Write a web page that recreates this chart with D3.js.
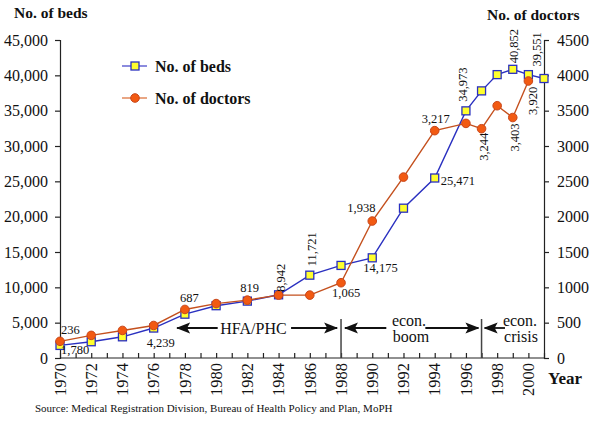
<!DOCTYPE html>
<html>
<head>
<meta charset="utf-8">
<script src="https://cdn.jsdelivr.net/npm/d3@7"></script>
<style>
  body { margin: 0; background: #fff; }
  svg text { font-family: "Liberation Serif", "Times New Roman", serif; fill: #111; }
</style>
</head>
<body>
<div id="chart"></div>
<script>
// Data
const bedYears = [1970, 1972, 1974, 1976, 1978, 1980, 1982, 1984, 1986, 1988, 1990, 1992, 1994, 1996, 1997, 1998, 1999, 2000, 2001];
const beds = [1780, 2300, 3000, 4239, 6200, 7400, 8050, 8942, 11721, 13100, 14175, 21200, 25471, 34973, 37800, 40100, 40852, 40100, 39551];
const doctorYears = [1970, 1972, 1974, 1976, 1978, 1980, 1982, 1984, 1986, 1988, 1990, 1992, 1994, 1996, 1997, 1998, 1999, 2000];
const doctors = [236, 320, 390, 460, 687, 770, 819, 890, 890, 1065, 1938, 2560, 3217, 3320, 3244, 3570, 3403, 3920];
const bedTicks = [0, 5000, 10000, 15000, 20000, 25000, 30000, 35000, 40000, 45000];
const doctorTicks = [0, 500, 1000, 1500, 2000, 2500, 3000, 3500, 4000, 4500];
const yearLabels = [1970, 1972, 1974, 1976, 1978, 1980, 1982, 1984, 1986, 1988, 1990, 1992, 1994, 1996, 1998, 2000];

// value labels: which point, and where the text goes
const bedLabels = [
  {year: 1970, text: '1,780', dx: 1, dy: 9},
  {year: 1976, text: '4,239', dx: -7, dy: 19},
  {year: 1984, text: '8,942', dx: 2, dy: -3, rot: true},
  {year: 1986, text: '11,721', dx: 2, dy: -9, rot: true},
  {year: 1990, text: '14,175', dx: -9, dy: 14},
  {year: 1994, text: '25,471', dx: 6, dy: 7},
  {year: 1996, text: '34,973', dx: -3, dy: -9, rot: true},
  {year: 1999, text: '40,852', dx: 1, dy: -6, rot: true},
  {year: 2001, text: '39,551', dx: -7, dy: -12, rot: true}
];
const doctorLabels = [
  {year: 1970, text: '236', dx: 1, dy: -7},
  {year: 1978, text: '687', dx: -5, dy: -7},
  {year: 1982, text: '819', dx: -7, dy: -8},
  {year: 1988, text: '1,065', dx: -9, dy: 14},
  {year: 1990, text: '1,938', dx: -25, dy: -9},
  {year: 1994, text: '3,217', dx: -13, dy: -8},
  {year: 1997, text: '3,244', dx: 2, dy: 32, rot: true},
  {year: 1999, text: '3,403', dx: 2, dy: 34, rot: true},
  {year: 2000, text: '3,920', dx: 4, dy: 34, rot: true}
];

const width = 600, height = 427;
const margin = {top: 40, right: 56, bottom: 69, left: 60};
const serif = '"Liberation Serif", "Times New Roman", serif';

const svg = d3.select('#chart').append('svg')
  .attr('width', width)
  .attr('height', height);

const x = d3.scaleLinear().domain([1970, 2001]).range([margin.left, width - margin.right]);
const yBeds = d3.scaleLinear().domain([0, 45000]).range([height - margin.bottom, margin.top]);
const yDocs = d3.scaleLinear().domain([0, 4500]).range([height - margin.bottom, margin.top]);

const bedColor = '#2a30c0', docColor = '#c4501e';
const x0 = x.range()[0], x1 = x.range()[1], yBase = yBeds.range()[0];

// arrowhead
svg.append('defs').append('marker')
  .attr('id', 'head')
  .attr('viewBox', '0 -6 14 12')
  .attr('refX', 13).attr('refY', 0)
  .attr('markerWidth', 14).attr('markerHeight', 12)
  .attr('markerUnits', 'userSpaceOnUse')
  .attr('orient', 'auto')
  .append('path')
  .attr('d', 'M0,-5.5L14,0L0,5.5L3,0Z')
  .attr('fill', '#111');

// axes
svg.append('g')
  .attr('transform', `translate(${x0},0)`)
  .call(d3.axisLeft(yBeds).tickValues(bedTicks).tickSize(5).tickPadding(7).tickFormat(d3.format(',')))
  .attr('font-family', serif)
  .call(g => g.selectAll('text').style('font-size', '16px'));

svg.append('g')
  .attr('transform', `translate(${x1},0)`)
  .call(d3.axisRight(yDocs).tickValues(doctorTicks).tickSize(5).tickPadding(8).tickFormat(d3.format('d')))
  .attr('font-family', serif)
  .call(g => g.selectAll('text').style('font-size', '16px'));

let xAxis = svg.append('g')
  .attr('transform', `translate(0,${yBase})`)
  .call(d3.axisBottom(x).tickValues(d3.range(1970, 2002)).tickSize(-5).tickFormat(''));
xAxis.select('.domain').attr('d', `M${x0},0H${x1}`);

svg.append('g').selectAll('text')
  .data(yearLabels)
  .join('text')
  .attr('transform', d => `translate(${x(d)},${yBase + 5}) rotate(-90)`)
  .attr('dy', '0.35em')
  .attr('text-anchor', 'end')
  .style('font-size', '16.5px')
  .text(d => d);

svg.selectAll('.domain, .tick line').attr('stroke', '#222').attr('stroke-width', 1.2);

// axis titles
svg.append('text').attr('x', 14).attr('y', 18)
  .style('font-size', '15.5px').style('font-weight', 'bold').text('No. of beds');
svg.append('text').attr('x', 487).attr('y', 20)
  .style('font-size', '15.5px').style('font-weight', 'bold').text('No. of doctors');
svg.append('text').attr('x', 548).attr('y', 384)
  .style('font-size', '17px').style('font-weight', 'bold').text('Year');
svg.append('text').attr('x', 35).attr('y', 412)
  .style('font-size', '11px').text('Source: Medical Registration Division, Bureau of Health Policy and Plan, MoPH');

// period annotations
const ay = 328;
[1988, 1997].forEach(yr => {
  svg.append('line')
    .attr('x1', x(yr)).attr('x2', x(yr))
    .attr('y1', 319).attr('y2', yBase)
    .attr('stroke', '#444').attr('stroke-width', 1.5);
});

function arrow(from, to) {
  svg.append('line')
    .attr('x1', from).attr('x2', to)
    .attr('y1', ay).attr('y2', ay)
    .attr('stroke', '#111').attr('stroke-width', 1.8)
    .attr('marker-end', 'url(#head)');
}
// HFA/PHC
arrow(x(1980.1), x(1977.5));
arrow(x(1984.8), x(1987.75));
svg.append('text').attr('x', 253.5).attr('y', 333.5).attr('text-anchor', 'middle')
  .style('font-size', '16px').text('HFA/PHC');
// econ. boom
arrow(x(1990.9), x(1988.25));
arrow(x(1993.4), x(1996.8));
svg.append('text').attr('x', 409).attr('y', 325.5).attr('text-anchor', 'middle')
  .style('font-size', '16px').text('econ.');
svg.append('text').attr('x', 411).attr('y', 341.5).attr('text-anchor', 'middle')
  .style('font-size', '16px').text('boom');
// econ. crisis
arrow(x(1998.5), x(1997.2));
svg.append('text').attr('x', 520).attr('y', 325.5).attr('text-anchor', 'middle')
  .style('font-size', '16px').text('econ.');
svg.append('text').attr('x', 521).attr('y', 341.5).attr('text-anchor', 'middle')
  .style('font-size', '16px').text('crisis');

// series
const bedPts = bedYears.map((yr, i) => ({year: yr, value: beds[i]}));
const docPts = doctorYears.map((yr, i) => ({year: yr, value: doctors[i]}));

svg.append('path')
  .datum(bedPts)
  .attr('fill', 'none').attr('stroke', bedColor).attr('stroke-width', 1.4)
  .attr('d', d3.line().x(d => x(d.year)).y(d => yBeds(d.value)));

svg.append('g').selectAll('rect')
  .data(bedPts)
  .join('rect')
  .attr('x', d => x(d.year) - 4).attr('y', d => yBeds(d.value) - 4)
  .attr('width', 8).attr('height', 8)
  .attr('fill', '#ffff2e').attr('stroke', bedColor).attr('stroke-width', 1.3);

svg.append('path')
  .datum(docPts)
  .attr('fill', 'none').attr('stroke', docColor).attr('stroke-width', 1.4)
  .attr('d', d3.line().x(d => x(d.year)).y(d => yDocs(d.value)));

svg.append('g').selectAll('circle')
  .data(docPts)
  .join('circle')
  .attr('cx', d => x(d.year)).attr('cy', d => yDocs(d.value))
  .attr('r', 4.3)
  .attr('fill', '#f25a12').attr('stroke', '#c8461a').attr('stroke-width', 1);

// value labels
function drawLabels(list, pts, yScale) {
  list.forEach(l => {
    const p = pts.find(d => d.year === l.year);
    const px = x(p.year) + l.dx, py = yScale(p.value) + l.dy;
    let t = svg.append('text').style('font-size', '12.5px').text(l.text);
    if (l.rot) {
      t.attr('transform', `translate(${px},${py}) rotate(-90)`)
        .attr('dy', '0.35em').attr('text-anchor', 'start');
    } else {
      t.attr('x', px).attr('y', py).attr('text-anchor', 'start');
    }
  });
}
drawLabels(bedLabels, bedPts, yBeds);
drawLabels(doctorLabels, docPts, yDocs);

// legend
const legend = [
  {name: 'No. of beds', y: 66, kind: 'rect'},
  {name: 'No. of doctors', y: 98, kind: 'circle'}
];
legend.forEach(l => {
  const c = l.kind === 'rect' ? '#5a5ad0' : '#e08050';
  svg.append('line').attr('x1', 122).attr('x2', 147).attr('y1', l.y).attr('y2', l.y)
    .attr('stroke', c).attr('stroke-width', 1.4);
  if (l.kind === 'rect') {
    svg.append('rect').attr('x', 131).attr('y', l.y - 4).attr('width', 8).attr('height', 8)
      .attr('fill', '#ffff2e').attr('stroke', bedColor).attr('stroke-width', 1.3);
  } else {
    svg.append('circle').attr('cx', 135).attr('cy', l.y).attr('r', 4.3)
      .attr('fill', '#f25a12').attr('stroke', '#c8461a');
  }
  svg.append('text').attr('x', 155).attr('y', l.y + 5.5)
    .style('font-size', '16px').style('font-weight', 'bold').text(l.name);
});
</script>
</body>
</html>
